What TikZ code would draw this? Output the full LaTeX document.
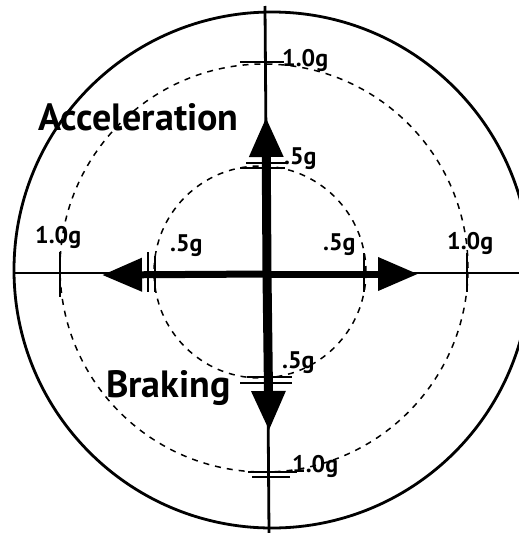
\documentclass[tikz,border=0pt]{standalone}
\usepackage{fontspec}
\setmainfont{PT Sans}
\usetikzlibrary{arrows.meta}

\begin{document}
\begin{tikzpicture}[x=1pt,y=-1pt,
    axis/.style={line width=2.8pt},
    gring/.style={line width=1.5pt, dash pattern=on 6pt off 6pt},
    gtick/.style={line width=2.4pt},
    force/.style={line width=#1, -{Triangle[length=40pt,width=32pt]}},
    glabel/.style={font=\bfseries\fontsize{24}{24}\selectfont, anchor=base west, inner sep=0pt},
    biglabel/.style={font=\bfseries\fontsize{38}{38}\selectfont, anchor=base west, inner sep=0pt}]
    \useasboundingbox (0,0) rectangle (519,533);
    \clip (0,0) rectangle (519,533);

    % outer ring and axes
    \draw[axis] (272,270) circle[radius=258pt];
    \coordinate (N) at (265,6);
    \coordinate (S) at (269,533);
    \coordinate (W) at (13,273);
    \coordinate (E) at (519,273);
    \draw[axis] (N) -- (S);
    \draw[axis] (W) -- (E);

    % dashed g rings
    \draw[gring] (264,268) circle[radius=204pt];
    \draw[gring] (260,272) circle[radius=106pt];

    % force arrows
    \coordinate (O) at (267,274);
    \coordinate (accel) at (266,117);
    \coordinate (brake) at (269,431);
    \coordinate (left) at (102,275);
    \coordinate (right) at (418,274);
    \draw[force=9pt] (O) -- (accel);
    \draw[force=9pt] (O) -- (brake);
    \draw[force=7pt] (O) -- (left);
    \draw[force=7pt] (O) -- (right);

    % ticks
    \draw[gtick] (240,62) -- (284,62);
    \draw[gtick] (246,163) -- (288,163);
    \draw[gtick] (240,168) -- (285,168);
    \draw[gtick] (247,377) -- (292,377);
    \draw[gtick] (240,383) -- (292,383);
    \draw[gtick] (248,472) -- (297,472);
    \draw[gtick] (252,477) -- (290,477);
    \draw[gtick] (60,252) -- (60,297);
    \draw[gtick] (148,252) -- (148,292);
    \draw[gtick] (155,256) -- (155,292);
    \draw[gtick] (364,253) -- (364,292);
    \draw[gtick] (467,253) -- (467,292);

    % labels
    \node[glabel] (topone) at (282,66) {1.0g};
    \node[glabel] (tophalf) at (284,164) {.5g};
    \node[glabel] (leftone) at (35,243) {1.0g};
    \node[glabel] (lefthalf) at (170,251) {.5g};
    \node[glabel] (righthalf) at (323,250) {.5g};
    \node[glabel] (rightone) at (447,249) {1.0g};
    \node[glabel] (bothalf) at (282,368) {.5g};
    \node[glabel] (botone) at (292,472) {1.0g};
    \node[biglabel] (acclabel) at (38,130) {Acceleration};
    \node[biglabel] (brklabel) at (106,397) {Braking};
\end{tikzpicture}
\end{document}
